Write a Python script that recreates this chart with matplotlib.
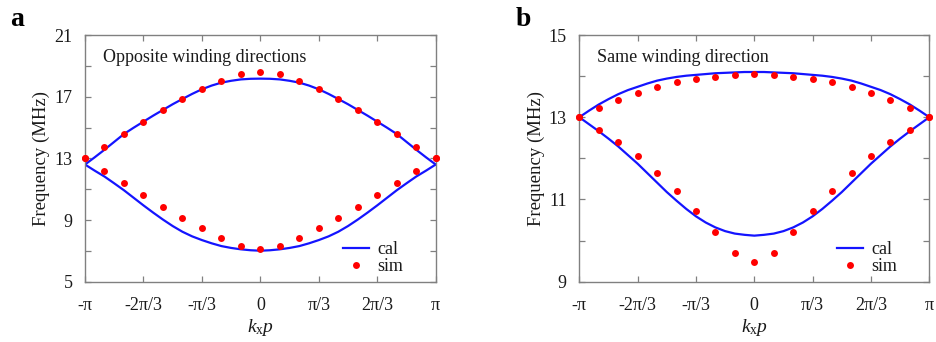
import numpy as np
import matplotlib
matplotlib.use("Agg")
import matplotlib.pyplot as plt

plt.rcParams['font.family'] = ['Liberation Serif', 'DejaVu Serif']
plt.rcParams['mathtext.fontset'] = 'custom'
plt.rcParams['mathtext.rm'] = 'Liberation Serif'
plt.rcParams['mathtext.it'] = 'Liberation Serif:italic'

# ---------------- data ----------------
# simulated points, k from -pi to pi in steps of pi/9
sim_k_steps = list(range(-9, 10))
a_sim_upper = [13.0, 13.76, 14.58, 15.36, 16.11, 16.85, 17.52, 18.04, 18.45, 18.58,
               18.45, 18.04, 17.52, 16.85, 16.11, 15.36, 14.58, 13.76, 13.0]
a_sim_lower = [13.0, 12.18, 11.41, 10.63, 9.86, 9.16, 8.47, 7.86, 7.32, 7.14,
               7.32, 7.86, 8.47, 9.16, 9.86, 10.63, 11.41, 12.18, 13.0]
b_sim_upper = [13.0, 13.22, 13.42, 13.60, 13.73, 13.86, 13.93, 13.99, 14.03, 14.05,
               14.03, 13.99, 13.93, 13.86, 13.73, 13.60, 13.42, 13.22, 13.0]
b_sim_lower = [13.0, 12.70, 12.40, 12.05, 11.65, 11.20, 10.72, 10.20, 9.70, 9.47,
               9.70, 10.20, 10.72, 11.20, 11.65, 12.05, 12.40, 12.70, 13.0]

# calculated curves, k from -pi to pi in steps of pi/18
cal_k_steps = list(range(-18, 19))
a_cal_upper = [12.60, 13.07, 13.56, 14.07, 14.58, 14.99, 15.38, 15.77, 16.14, 16.51,
               16.85, 17.18, 17.48, 17.72, 17.91, 18.03, 18.12, 18.16, 18.17,
               18.16, 18.12, 18.03, 17.91, 17.72, 17.48, 17.18, 16.85, 16.51, 16.14,
               15.77, 15.38, 14.99, 14.58, 14.07, 13.56, 13.07, 12.60]
a_cal_lower = [12.60, 12.20, 11.82, 11.38, 10.93, 10.44, 9.95, 9.48, 9.03, 8.61,
               8.24, 7.94, 7.70, 7.49, 7.31, 7.19, 7.10, 7.04, 7.01,
               7.04, 7.10, 7.19, 7.31, 7.49, 7.70, 7.94, 8.24, 8.61, 9.03,
               9.48, 9.95, 10.44, 10.93, 11.38, 11.82, 12.20, 12.60]
b_cal_upper = [13.0, 13.16, 13.31, 13.44, 13.56, 13.66, 13.74, 13.82, 13.89, 13.94,
               13.98, 14.01, 14.03, 14.05, 14.07, 14.08, 14.09, 14.10, 14.10,
               14.10, 14.09, 14.08, 14.07, 14.05, 14.03, 14.01, 13.98, 13.94, 13.89,
               13.82, 13.74, 13.66, 13.56, 13.44, 13.31, 13.16, 13.0]
b_cal_lower = [13.0, 12.83, 12.66, 12.48, 12.29, 12.08, 11.87, 11.64, 11.41, 11.18,
               10.97, 10.77, 10.59, 10.44, 10.32, 10.23, 10.17, 10.14, 10.12,
               10.14, 10.17, 10.23, 10.32, 10.44, 10.59, 10.77, 10.97, 11.18, 11.41,
               11.64, 11.87, 12.08, 12.29, 12.48, 12.66, 12.83, 13.0]

x_tick_labels = ['-π', '-2π/3', '-π/3', '0', 'π/3', '2π/3', 'π']
a_yticks = [5, 7, 9, 11, 13, 15, 17, 19, 21]
a_ylabels = ['5', '', '9', '', '13', '', '17', '', '21']
b_yticks = [9, 10, 11, 12, 13, 14, 15]
b_ylabels = ['9', '', '11', '', '13', '', '15']
titles = ['Opposite winding directions', 'Same winding direction']
panel_letters = ['a', 'b']

# ---------------- plot ----------------
W, H = 936, 342
fig = plt.figure(figsize=(W / 100, H / 100), dpi=100)

BLUE = '#1414ff'
RED = '#ff0000'
SPINE = '#808080'
TXT = '#1a1a1a'

def make_axes(left_px, right_px, top_px=35, bottom_px=281.7):
    return fig.add_axes([left_px / W, 1 - bottom_px / H,
                         (right_px - left_px) / W, (bottom_px - top_px) / H])

axA = make_axes(85, 435.7)
axB = make_axes(579.3, 929.3)

sim_k = np.array(sim_k_steps) * np.pi / 9
cal_k = np.array(cal_k_steps) * np.pi / 18

panels = [
    (axA, a_cal_upper, a_cal_lower, a_sim_upper, a_sim_lower, (5, 21), a_yticks, a_ylabels),
    (axB, b_cal_upper, b_cal_lower, b_sim_upper, b_sim_lower, (9, 15), b_yticks, b_ylabels),
]

for i, (ax, cu, cl, su, sl, ylim, yt, yl) in enumerate(panels):
    l1, = ax.plot(cal_k, cu, color=BLUE, lw=1.6, label='cal', zorder=2)
    ax.plot(cal_k, cl, color=BLUE, lw=1.6, zorder=2)
    p1, = ax.plot(sim_k, su, 'o', color=RED, ms=5.0, mew=0, label='sim', zorder=3, clip_on=False)
    ax.plot(sim_k, sl, 'o', color=RED, ms=5.0, mew=0, zorder=3, clip_on=False)
    ax.set_xlim(-np.pi, np.pi)
    ax.set_ylim(*ylim)
    ax.set_xticks(np.array([-3, -2, -1, 0, 1, 2, 3]) * np.pi / 3)
    ax.set_xticklabels(x_tick_labels)
    ax.set_yticks(yt)
    ax.set_yticklabels(yl)
    ax.tick_params(direction='in', top=True, right=True, length=4, width=0.9,
                   color=SPINE, labelsize=13, labelcolor=TXT)
    ax.tick_params(axis='x', pad=11)
    ax.tick_params(axis='y', pad=9)
    for s in ax.spines.values():
        s.set_color(SPINE)
        s.set_linewidth(1.0)
    ax.set_ylabel('Frequency (MHz)', fontsize=13.5, color=TXT, labelpad=3)
    ax.set_xlabel(r'$k_{\mathrm{x}}p$', fontsize=14, color=TXT, labelpad=2)
    ax.text(0.05, 0.892, titles[i], transform=ax.transAxes, fontsize=13,
            color=TXT, va='baseline', ha='left')
    ax.legend(handles=[l1, p1], loc='center left', bbox_to_anchor=(0.736, 0.095),
              frameon=False, fontsize=13, handlelength=1.45, handletextpad=0.45,
              labelspacing=0.0, borderpad=0, borderaxespad=0, labelcolor=TXT)

fig.text(10 / W, 1 - 26 / H, panel_letters[0], fontsize=20, fontweight='bold',
         color='black', va='baseline')
fig.text(516 / W, 1 - 26 / H, panel_letters[1], fontsize=20, fontweight='bold',
         color='black', va='baseline')

fig.savefig('out.png', dpi=100)
